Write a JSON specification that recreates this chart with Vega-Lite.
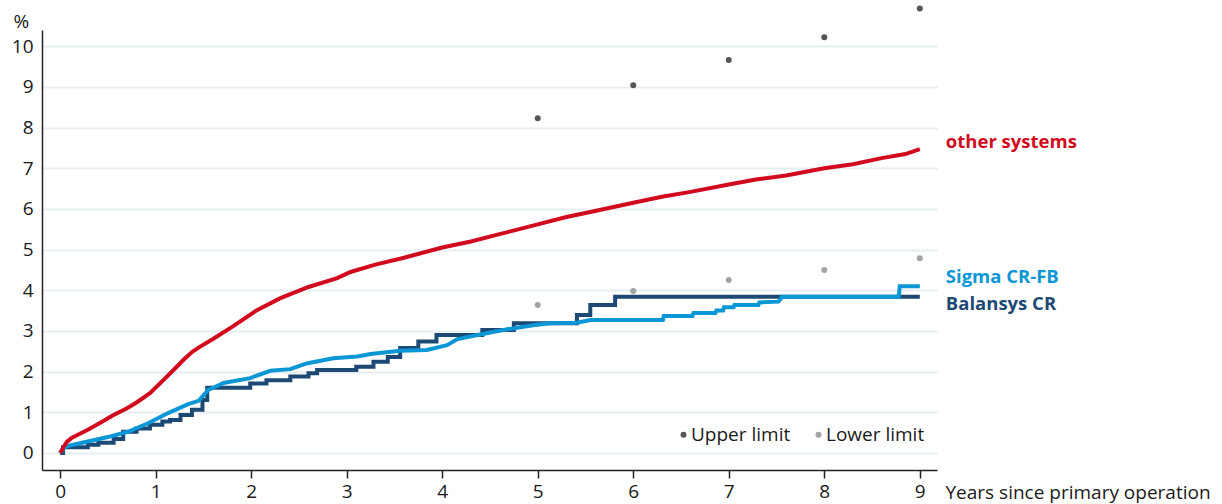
{
  "$schema": "https://vega.github.io/schema/vega-lite/v6.json",
  "autosize": "none",
  "padding": {"left": 42, "top": 30, "right": 285, "bottom": 34},
  "width": 895,
  "height": 440,
  "config": {
    "view": {"stroke": null},
    "font": "Open Sans",
    "axis": {"labelFont": "Open Sans", "labelFontSize": 19, "labelColor": "#1a1a1a", "titleFont": "Open Sans", "titleFontSize": 19, "titleFontWeight": "normal", "titleColor": "#1a1a1a", "domainColor": "#222222", "domainWidth": 1.5}
  },
  "datasets": {
    "lines": [
      {"series": "other systems", "i": 0, "x": 0, "y": 0},
      {"series": "other systems", "i": 1, "x": 0.03, "y": 0.12},
      {"series": "other systems", "i": 2, "x": 0.07, "y": 0.27},
      {"series": "other systems", "i": 3, "x": 0.12, "y": 0.37},
      {"series": "other systems", "i": 4, "x": 0.18, "y": 0.44},
      {"series": "other systems", "i": 5, "x": 0.3, "y": 0.58},
      {"series": "other systems", "i": 6, "x": 0.42, "y": 0.74},
      {"series": "other systems", "i": 7, "x": 0.55, "y": 0.92},
      {"series": "other systems", "i": 8, "x": 0.7, "y": 1.1},
      {"series": "other systems", "i": 9, "x": 0.8, "y": 1.24},
      {"series": "other systems", "i": 10, "x": 0.94, "y": 1.47},
      {"series": "other systems", "i": 11, "x": 1.08, "y": 1.79},
      {"series": "other systems", "i": 12, "x": 1.2, "y": 2.07},
      {"series": "other systems", "i": 13, "x": 1.3, "y": 2.31},
      {"series": "other systems", "i": 14, "x": 1.39, "y": 2.5},
      {"series": "other systems", "i": 15, "x": 1.47, "y": 2.62},
      {"series": "other systems", "i": 16, "x": 1.6, "y": 2.8},
      {"series": "other systems", "i": 17, "x": 1.8, "y": 3.1},
      {"series": "other systems", "i": 18, "x": 2.06, "y": 3.51},
      {"series": "other systems", "i": 19, "x": 2.3, "y": 3.8},
      {"series": "other systems", "i": 20, "x": 2.6, "y": 4.08},
      {"series": "other systems", "i": 21, "x": 2.9, "y": 4.3},
      {"series": "other systems", "i": 22, "x": 3.04, "y": 4.45},
      {"series": "other systems", "i": 23, "x": 3.3, "y": 4.63},
      {"series": "other systems", "i": 24, "x": 3.6, "y": 4.8},
      {"series": "other systems", "i": 25, "x": 4.0, "y": 5.05},
      {"series": "other systems", "i": 26, "x": 4.3, "y": 5.2},
      {"series": "other systems", "i": 27, "x": 4.6, "y": 5.38},
      {"series": "other systems", "i": 28, "x": 5.0, "y": 5.62},
      {"series": "other systems", "i": 29, "x": 5.3, "y": 5.8},
      {"series": "other systems", "i": 30, "x": 5.6, "y": 5.95},
      {"series": "other systems", "i": 31, "x": 6.0, "y": 6.15},
      {"series": "other systems", "i": 32, "x": 6.3, "y": 6.3},
      {"series": "other systems", "i": 33, "x": 6.6, "y": 6.42},
      {"series": "other systems", "i": 34, "x": 7.0, "y": 6.6},
      {"series": "other systems", "i": 35, "x": 7.3, "y": 6.73},
      {"series": "other systems", "i": 36, "x": 7.6, "y": 6.82},
      {"series": "other systems", "i": 37, "x": 8.0, "y": 7.0},
      {"series": "other systems", "i": 38, "x": 8.3, "y": 7.1},
      {"series": "other systems", "i": 39, "x": 8.6, "y": 7.25},
      {"series": "other systems", "i": 40, "x": 8.85, "y": 7.35},
      {"series": "other systems", "i": 41, "x": 9.0, "y": 7.47},

      {"series": "Sigma CR-FB", "i": 0, "x": 0, "y": 0},
      {"series": "Sigma CR-FB", "i": 1, "x": 0.04, "y": 0.12},
      {"series": "Sigma CR-FB", "i": 2, "x": 0.08, "y": 0.17},
      {"series": "Sigma CR-FB", "i": 3, "x": 0.29, "y": 0.28},
      {"series": "Sigma CR-FB", "i": 4, "x": 0.5, "y": 0.39},
      {"series": "Sigma CR-FB", "i": 5, "x": 0.71, "y": 0.52},
      {"series": "Sigma CR-FB", "i": 6, "x": 0.92, "y": 0.73},
      {"series": "Sigma CR-FB", "i": 7, "x": 1.13, "y": 0.98},
      {"series": "Sigma CR-FB", "i": 8, "x": 1.34, "y": 1.2},
      {"series": "Sigma CR-FB", "i": 9, "x": 1.45, "y": 1.28},
      {"series": "Sigma CR-FB", "i": 10, "x": 1.55, "y": 1.55},
      {"series": "Sigma CR-FB", "i": 11, "x": 1.62, "y": 1.62},
      {"series": "Sigma CR-FB", "i": 12, "x": 1.71, "y": 1.72},
      {"series": "Sigma CR-FB", "i": 13, "x": 1.99, "y": 1.84},
      {"series": "Sigma CR-FB", "i": 14, "x": 2.2, "y": 2.02},
      {"series": "Sigma CR-FB", "i": 15, "x": 2.41, "y": 2.06},
      {"series": "Sigma CR-FB", "i": 16, "x": 2.58, "y": 2.2},
      {"series": "Sigma CR-FB", "i": 17, "x": 2.86, "y": 2.33},
      {"series": "Sigma CR-FB", "i": 18, "x": 3.11, "y": 2.37},
      {"series": "Sigma CR-FB", "i": 19, "x": 3.25, "y": 2.43},
      {"series": "Sigma CR-FB", "i": 20, "x": 3.56, "y": 2.51},
      {"series": "Sigma CR-FB", "i": 21, "x": 3.84, "y": 2.53},
      {"series": "Sigma CR-FB", "i": 22, "x": 4.05, "y": 2.65},
      {"series": "Sigma CR-FB", "i": 23, "x": 4.16, "y": 2.8},
      {"series": "Sigma CR-FB", "i": 24, "x": 4.37, "y": 2.9},
      {"series": "Sigma CR-FB", "i": 25, "x": 4.68, "y": 3.04},
      {"series": "Sigma CR-FB", "i": 26, "x": 4.95, "y": 3.14},
      {"series": "Sigma CR-FB", "i": 27, "x": 5.13, "y": 3.19},
      {"series": "Sigma CR-FB", "i": 28, "x": 5.41, "y": 3.2},
      {"series": "Sigma CR-FB", "i": 29, "x": 5.55, "y": 3.27},
      {"series": "Sigma CR-FB", "i": 30, "x": 6.31, "y": 3.27},
      {"series": "Sigma CR-FB", "i": 31, "x": 6.32, "y": 3.37},
      {"series": "Sigma CR-FB", "i": 32, "x": 6.62, "y": 3.37},
      {"series": "Sigma CR-FB", "i": 33, "x": 6.63, "y": 3.44},
      {"series": "Sigma CR-FB", "i": 34, "x": 6.86, "y": 3.44},
      {"series": "Sigma CR-FB", "i": 35, "x": 6.87, "y": 3.5},
      {"series": "Sigma CR-FB", "i": 36, "x": 6.94, "y": 3.5},
      {"series": "Sigma CR-FB", "i": 37, "x": 6.95, "y": 3.58},
      {"series": "Sigma CR-FB", "i": 38, "x": 7.05, "y": 3.58},
      {"series": "Sigma CR-FB", "i": 39, "x": 7.06, "y": 3.64},
      {"series": "Sigma CR-FB", "i": 40, "x": 7.31, "y": 3.64},
      {"series": "Sigma CR-FB", "i": 41, "x": 7.32, "y": 3.7},
      {"series": "Sigma CR-FB", "i": 42, "x": 7.52, "y": 3.72},
      {"series": "Sigma CR-FB", "i": 43, "x": 7.56, "y": 3.84},
      {"series": "Sigma CR-FB", "i": 44, "x": 8.78, "y": 3.84},
      {"series": "Sigma CR-FB", "i": 45, "x": 8.79, "y": 4.1},
      {"series": "Sigma CR-FB", "i": 46, "x": 9.0, "y": 4.1},

      {"series": "Balansys CR", "i": 0, "x": 0, "y": 0},
      {"series": "Balansys CR", "i": 1, "x": 0.03, "y": 0.14},
      {"series": "Balansys CR", "i": 2, "x": 0.29, "y": 0.2},
      {"series": "Balansys CR", "i": 3, "x": 0.4, "y": 0.25},
      {"series": "Balansys CR", "i": 4, "x": 0.56, "y": 0.34},
      {"series": "Balansys CR", "i": 5, "x": 0.66, "y": 0.52},
      {"series": "Balansys CR", "i": 6, "x": 0.8, "y": 0.6},
      {"series": "Balansys CR", "i": 7, "x": 0.94, "y": 0.69},
      {"series": "Balansys CR", "i": 8, "x": 1.07, "y": 0.77},
      {"series": "Balansys CR", "i": 9, "x": 1.15, "y": 0.81},
      {"series": "Balansys CR", "i": 10, "x": 1.26, "y": 0.93},
      {"series": "Balansys CR", "i": 11, "x": 1.38, "y": 1.06},
      {"series": "Balansys CR", "i": 12, "x": 1.49, "y": 1.3},
      {"series": "Balansys CR", "i": 13, "x": 1.54, "y": 1.6},
      {"series": "Balansys CR", "i": 14, "x": 1.99, "y": 1.71},
      {"series": "Balansys CR", "i": 15, "x": 2.16, "y": 1.79},
      {"series": "Balansys CR", "i": 16, "x": 2.41, "y": 1.88},
      {"series": "Balansys CR", "i": 17, "x": 2.6, "y": 1.96},
      {"series": "Balansys CR", "i": 18, "x": 2.69, "y": 2.04},
      {"series": "Balansys CR", "i": 19, "x": 3.1, "y": 2.12},
      {"series": "Balansys CR", "i": 20, "x": 3.28, "y": 2.24},
      {"series": "Balansys CR", "i": 21, "x": 3.43, "y": 2.36},
      {"series": "Balansys CR", "i": 22, "x": 3.56, "y": 2.58},
      {"series": "Balansys CR", "i": 23, "x": 3.75, "y": 2.74},
      {"series": "Balansys CR", "i": 24, "x": 3.94, "y": 2.9},
      {"series": "Balansys CR", "i": 25, "x": 4.42, "y": 3.02},
      {"series": "Balansys CR", "i": 26, "x": 4.75, "y": 3.19},
      {"series": "Balansys CR", "i": 27, "x": 5.41, "y": 3.39},
      {"series": "Balansys CR", "i": 28, "x": 5.55, "y": 3.64},
      {"series": "Balansys CR", "i": 29, "x": 5.81, "y": 3.84},
      {"series": "Balansys CR", "i": 30, "x": 9.0, "y": 3.84}
    ],
    "limits": [
      {"limit": "Upper limit", "x": 5, "y": 8.23},
      {"limit": "Upper limit", "x": 6, "y": 9.04},
      {"limit": "Upper limit", "x": 7, "y": 9.66},
      {"limit": "Upper limit", "x": 8, "y": 10.22},
      {"limit": "Upper limit", "x": 9, "y": 10.93},
      {"limit": "Lower limit", "x": 5, "y": 3.64},
      {"limit": "Lower limit", "x": 6, "y": 3.98},
      {"limit": "Lower limit", "x": 7, "y": 4.25},
      {"limit": "Lower limit", "x": 8, "y": 4.5},
      {"limit": "Lower limit", "x": 9, "y": 4.79}
    ],
    "labels": [
      {"series": "other systems", "x": 9, "y": 7.64},
      {"series": "Sigma CR-FB", "x": 9, "y": 4.32},
      {"series": "Balansys CR", "x": 9, "y": 3.66}
    ]
  },
  "resolve": {"scale": {"color": "independent"}},
  "layer": [
    {
      "data": {"name": "lines"},
      "transform": [{"filter": "datum.series === 'Balansys CR'"}],
      "mark": {"type": "line", "interpolate": "step-after", "strokeWidth": 4, "color": "#1d4a74", "clip": false},
      "encoding": {
        "x": {"field": "x", "type": "quantitative", "scale": {"domain": [-0.19, 9.18], "nice": false, "zero": false},
          "axis": {"values": [0,1,2,3,4,5,6,7,8,9], "format": "d", "grid": false, "tickSize": 8, "tickColor": "#222222", "tickWidth": 1.5, "labelPadding": 4, "labelFlush": false,
            "title": "Years since primary operation", "titleX": 903, "titleY": 28, "titleAlign": "left", "titleBaseline": "alphabetic", "titleAnchor": null}},
        "y": {"field": "y", "type": "quantitative", "scale": {"domain": [-0.42, 10.4], "nice": false, "zero": false},
          "axis": {"values": [0,1,2,3,4,5,6,7,8,9,10], "format": "d", "grid": true, "gridColor": "#e5eef1", "gridWidth": 2, "ticks": false, "labelPadding": 9,
            "title": "%", "titleAngle": 0, "titleX": -29, "titleY": -3, "titleAlign": "left", "titleBaseline": "alphabetic", "titleAnchor": null}},
        "order": {"field": "i", "type": "quantitative"}
      }
    },
    {
      "data": {"name": "lines"},
      "transform": [{"filter": "datum.series === 'Sigma CR-FB'"}],
      "mark": {"type": "line", "strokeWidth": 4, "color": "#0b96d6", "strokeJoin": "miter", "clip": false},
      "encoding": {
        "x": {"field": "x", "type": "quantitative"},
        "y": {"field": "y", "type": "quantitative"},
        "order": {"field": "i", "type": "quantitative"}
      }
    },
    {
      "data": {"name": "lines"},
      "transform": [{"filter": "datum.series === 'other systems'"}],
      "mark": {"type": "line", "strokeWidth": 4, "color": "#d20a1e", "clip": false},
      "encoding": {
        "x": {"field": "x", "type": "quantitative"},
        "y": {"field": "y", "type": "quantitative"},
        "order": {"field": "i", "type": "quantitative"}
      }
    },
    {
      "data": {"name": "limits"},
      "mark": {"type": "point", "filled": true, "shape": "circle", "size": 36, "opacity": 1},
      "encoding": {
        "x": {"field": "x", "type": "quantitative"},
        "y": {"field": "y", "type": "quantitative"},
        "color": {"field": "limit", "type": "nominal",
          "scale": {"domain": ["Upper limit", "Lower limit"], "range": ["#555555", "#a3a3a3"]},
          "legend": {"title": null, "orient": "none", "legendX": 632, "legendY": 395, "direction": "horizontal", "columns": 2, "columnPadding": 18,
            "labelFont": "Open Sans", "labelFontSize": 19, "labelColor": "#1a1a1a", "symbolSize": 36, "symbolType": "circle", "labelOffset": -2, "padding": 0}}
      }
    },
    {
      "data": {"name": "labels"},
      "mark": {"type": "text", "align": "left", "baseline": "middle", "dx": 26, "fontSize": 18.5, "fontWeight": "bold", "font": "Open Sans"},
      "encoding": {
        "x": {"field": "x", "type": "quantitative"},
        "y": {"field": "y", "type": "quantitative"},
        "text": {"field": "series", "type": "nominal"},
        "color": {"field": "series", "type": "nominal",
          "scale": {"domain": ["other systems", "Sigma CR-FB", "Balansys CR"], "range": ["#d20a1e", "#0b96d6", "#1d4a74"]},
          "legend": null}
      }
    }
  ]
}
